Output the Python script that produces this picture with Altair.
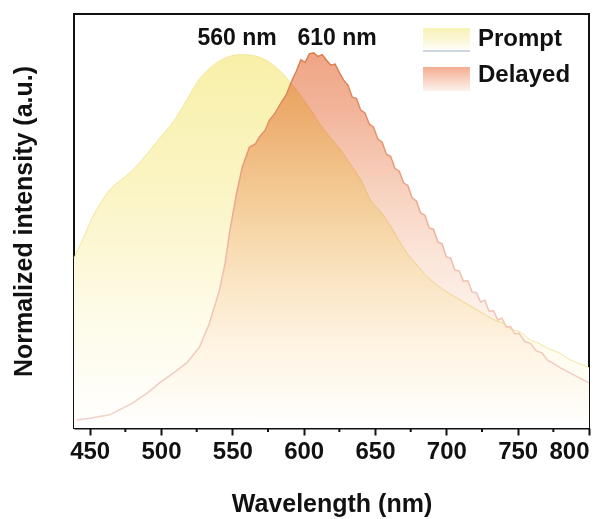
import altair as alt
import pandas as pd

# ---------------- data ----------------
prompt_wavelength = [439, 445, 452, 458, 464, 471, 478, 486, 494, 501, 508, 513, 518, 523, 527,
                     534, 541, 548, 555, 562, 569, 575, 581, 586, 591, 596, 600, 606, 612, 619,
                     626, 633, 640, 647, 654, 662, 671, 680, 689, 699, 710, 722, 734, 740, 746,
                     752, 759, 765, 772, 779, 787, 793, 800]
prompt_intensity = [0.452, 0.500, 0.561, 0.600, 0.633, 0.657, 0.678, 0.710, 0.747, 0.780, 0.811,
                    0.840, 0.872, 0.905, 0.928, 0.956, 0.976, 0.988, 0.993, 0.992, 0.986, 0.975,
                    0.958, 0.940, 0.917, 0.895, 0.872, 0.840, 0.805, 0.770, 0.739, 0.700, 0.660,
                    0.606, 0.575, 0.530, 0.473, 0.430, 0.394, 0.365, 0.340, 0.313, 0.287, 0.278,
                    0.262, 0.255, 0.234, 0.225, 0.210, 0.200, 0.181, 0.172, 0.160]

delayed_wavelength = [441, 450, 464, 480, 490, 499, 510, 518, 527, 534, 541, 545, 548, 553, 557,
                      562, 566, 569, 573, 576, 580, 584, 588, 592, 595, 598, 601, 604, 607, 610,
                      613, 616, 619, 622, 625, 628, 631, 634, 637, 640, 643, 646, 649, 652, 655,
                      658, 661, 664, 667, 670, 673, 676, 679, 682, 685, 688, 691, 694, 697, 700,
                      703, 706, 709, 712, 715, 718, 721, 724, 727, 730, 733, 736, 739, 742, 745,
                      748, 751, 755, 759, 763, 767, 771, 775, 780, 785, 790, 795, 800]
delayed_intensity = [0.021, 0.026, 0.035, 0.066, 0.092, 0.120, 0.150, 0.173, 0.215, 0.279, 0.367,
                     0.440, 0.519, 0.625, 0.694, 0.747, 0.755, 0.774, 0.792, 0.819, 0.838, 0.864,
                     0.888, 0.926, 0.950, 0.979, 0.972, 0.995, 0.998, 0.988, 0.993, 0.978, 0.965,
                     0.968, 0.945, 0.925, 0.912, 0.880, 0.876, 0.845, 0.838, 0.808, 0.800, 0.768,
                     0.760, 0.728, 0.722, 0.690, 0.683, 0.652, 0.645, 0.612, 0.604, 0.572, 0.566,
                     0.532, 0.528, 0.495, 0.490, 0.455, 0.452, 0.420, 0.418, 0.390, 0.392, 0.362,
                     0.360, 0.335, 0.340, 0.310, 0.312, 0.288, 0.292, 0.268, 0.270, 0.250, 0.252,
                     0.230, 0.225, 0.205, 0.200, 0.180, 0.172, 0.160, 0.150, 0.140, 0.130, 0.120]

major_ticks = [450, 500, 550, 600, 650, 700, 750, 800]
minor_ticks = [475, 525, 575, 625, 675, 725, 775]
series_names = ["Prompt", "Delayed"]
peak_labels = ["560 nm", "610 nm"]

prompt_df = pd.DataFrame({"wl": prompt_wavelength, "I": prompt_intensity})
delayed_df = pd.DataFrame({"wl": delayed_wavelength, "I": delayed_intensity})
minor_df = pd.DataFrame({"wl": minor_ticks})

FONT = "Liberation Sans"
W, H = 515, 414

x_scale = alt.Scale(domain=[439, 800], nice=False, zero=False)
y_scale = alt.Scale(domain=[0, 1.101], nice=False, zero=False)


def vgrad(stops):
    return alt.Gradient(
        gradient="linear", x1=0, x2=0, y1=0, y2=1,
        stops=[alt.GradientStop(color=c, offset=o) for o, c in stops],
    )


prompt_fill = vgrad([(0, "#f8f0a8"), (0.4, "#fbf5c8"), (0.7, "#fefbe8"), (1, "#ffffff")])
delayed_fill = vgrad([(0, "#efa585"), (0.15, "#f2b49a"), (0.35, "#f7d0bc"), (0.55, "#fbe6da"),
                      (0.8, "#fff8f4"), (1, "#ffffff")])
delayed_stroke = vgrad([(0, "#dc7a48"), (0.3, "#e89a78"), (0.6, "#f0c0b0"), (1, "#f2d0c8")])

x_enc = alt.X(
    "wl:Q", scale=x_scale,
    axis=alt.Axis(
        values=major_ticks, title="Wavelength (nm)", format="d",
        labelFont=FONT, labelFontSize=24, labelFontWeight="bold", labelColor="#111",
        labelPadding=4, tickSize=7, tickWidth=2, tickColor="#111",
        domainColor="#111", domainWidth=2, grid=False,
        titleFont=FONT, titleFontSize=25, titleFontWeight="bold", titleColor="#111",
        titlePadding=28,
    ),
)
y_enc = alt.Y(
    "I:Q", scale=y_scale,
    axis=alt.Axis(
        title="Normalized intensity (a.u.)", labels=False, ticks=False, domain=False, grid=False,
        titleFont=FONT, titleFontSize=25, titleFontWeight="bold", titleColor="#111",
        titlePadding=38,
    ),
)

prompt_area = alt.Chart(prompt_df).mark_area(
    fill=prompt_fill, interpolate="monotone").encode(x=x_enc, y=y_enc)
prompt_line = alt.Chart(prompt_df).mark_line(
    stroke="#f3e79a", strokeWidth=1, interpolate="monotone").encode(x="wl:Q", y="I:Q")
delayed_area = alt.Chart(delayed_df).mark_area(
    fill=delayed_fill, blend="multiply").encode(x="wl:Q", y="I:Q")
delayed_line = alt.Chart(delayed_df).mark_line(
    stroke=delayed_stroke, strokeWidth=1.5).encode(x="wl:Q", y="I:Q")

minor = alt.Chart(minor_df).mark_rule(color="#111", strokeWidth=2).encode(
    x="wl:Q", y=alt.value(H), y2=alt.value(H + 4)
)

one = alt.Data(values=[{}])
txt_style = dict(font=FONT, fontWeight="bold", color="#111", baseline="middle")

peak1 = alt.Chart(one).mark_text(text=peak_labels[0], fontSize=23, align="center", **txt_style).encode(
    x=alt.value(163), y=alt.value(24))
peak2 = alt.Chart(one).mark_text(text=peak_labels[1], fontSize=23, align="center", **txt_style).encode(
    x=alt.value(263), y=alt.value(24))

leg_prompt_fill = vgrad([(0, "#f7f2b4"), (0.6, "#fbf8dc"), (1, "#ffffff")])
leg_delayed_fill = vgrad([(0, "#f3ad90"), (0.5, "#f8d0be"), (1, "#fdf3ee")])

leg_rect1 = alt.Chart(one).mark_rect(fill=leg_prompt_fill).encode(
    x=alt.value(349), x2=alt.value(396), y=alt.value(14), y2=alt.value(37))
leg_line1 = alt.Chart(one).mark_rule(color="#bcc8d0", strokeWidth=1.5).encode(
    x=alt.value(349), x2=alt.value(396), y=alt.value(37))
leg_rect2 = alt.Chart(one).mark_rect(fill=leg_delayed_fill).encode(
    x=alt.value(349), x2=alt.value(396), y=alt.value(53), y2=alt.value(77))
leg_text1 = alt.Chart(one).mark_text(text=series_names[0], fontSize=24, align="left", **txt_style).encode(
    x=alt.value(404), y=alt.value(25))
leg_text2 = alt.Chart(one).mark_text(text=series_names[1], fontSize=24, align="left", **txt_style).encode(
    x=alt.value(404), y=alt.value(61))

chart = alt.layer(
    prompt_area, prompt_line, delayed_area, delayed_line, minor,
    peak1, peak2, leg_rect1, leg_line1, leg_rect2, leg_text1, leg_text2,
).properties(
    width=W, height=H,
    autosize=alt.AutoSizeParams(type="none"),
    padding={"left": 74, "top": 14, "right": 27, "bottom": 91},
    background="white",
).configure_view(stroke="#111", strokeWidth=2)

chart.save("out.html", embed_options={"renderer": "svg", "actions": False})
